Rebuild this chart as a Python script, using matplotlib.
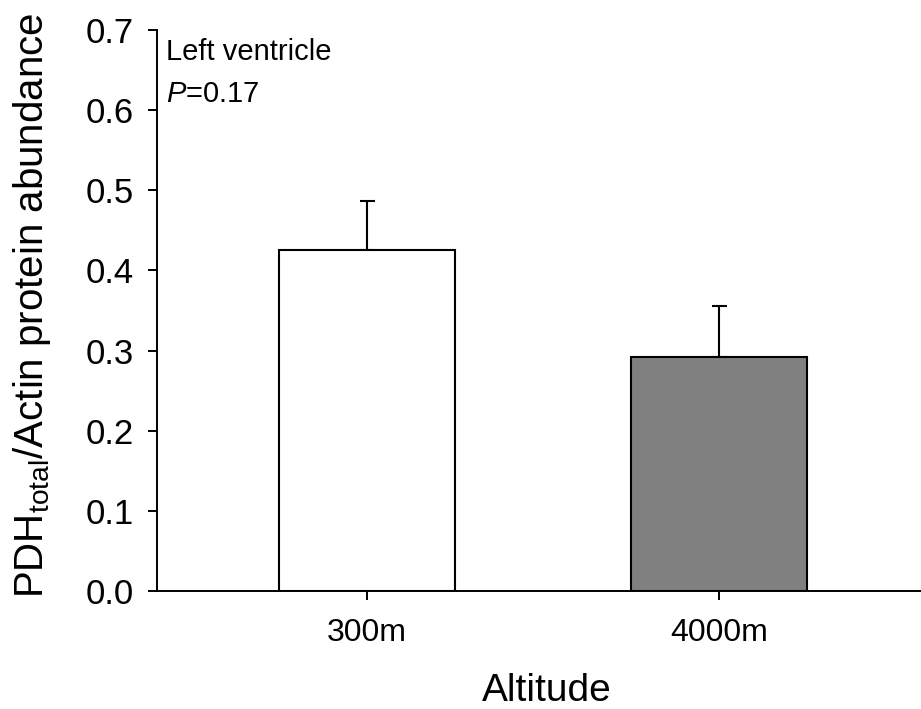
import numpy as np
import matplotlib
matplotlib.use('Agg')
import matplotlib.pyplot as plt

# Bar data
categories = ['300m', '4000m']
means = [0.425, 0.292]
errors = [0.062, 0.063]
colors = ['white', '#808080']
yticks = [0.0, 0.1, 0.2, 0.3, 0.4, 0.5, 0.6, 0.7]

plt.rcParams['font.family'] = ['Liberation Sans', 'DejaVu Sans']
plt.rcParams['mathtext.fontset'] = 'custom'
plt.rcParams['mathtext.rm'] = 'Liberation Sans'
plt.rcParams['mathtext.it'] = 'Liberation Sans:italic'

fig = plt.figure(figsize=(9.21, 7.09), dpi=100)
ax = fig.add_axes([0.1701, 0.1664, 0.8299, 0.7913])

x = np.arange(len(categories))
ax.bar(x, means, width=0.5, color=colors, edgecolor='black', linewidth=1.5, zorder=2)
ax.errorbar(x, means, yerr=[np.zeros(len(errors)), errors], fmt='none',
            ecolor='black', elinewidth=1.5, capsize=5.4, capthick=1.5, zorder=1)

ax.set_xlim(-0.598, 1.573)
ax.set_ylim(0, 0.7)
ax.set_xticks(x)
ax.set_xticklabels(categories)
ax.set_yticks(yticks)
ax.set_yticklabels([f'{v:.1f}' for v in yticks])

for side in ['top', 'right']:
    ax.spines[side].set_visible(False)
for side in ['left', 'bottom']:
    ax.spines[side].set_linewidth(1.4)

ax.tick_params(axis='both', direction='out', length=6.5, width=1.4)
ax.tick_params(axis='y', pad=10, labelsize=25)
ax.tick_params(axis='x', pad=13, labelsize=23)

ax.set_xlabel('Altitude', fontsize=28)
ax.set_ylabel('PDH$_{\\mathrm{total}}$/Actin protein abundance', fontsize=29)
ax.xaxis.set_label_coords(0.511, -0.146)
ax.yaxis.set_label_coords(-0.136, 0.51)

ax.text(0.012, 0.9465, 'Left ventricle', transform=ax.transAxes,
        fontsize=21, va='baseline', ha='left')
ax.text(0.012, 0.872, '$P$=0.17', transform=ax.transAxes,
        fontsize=21, va='baseline', ha='left')

fig.savefig('out.png', dpi=100)
